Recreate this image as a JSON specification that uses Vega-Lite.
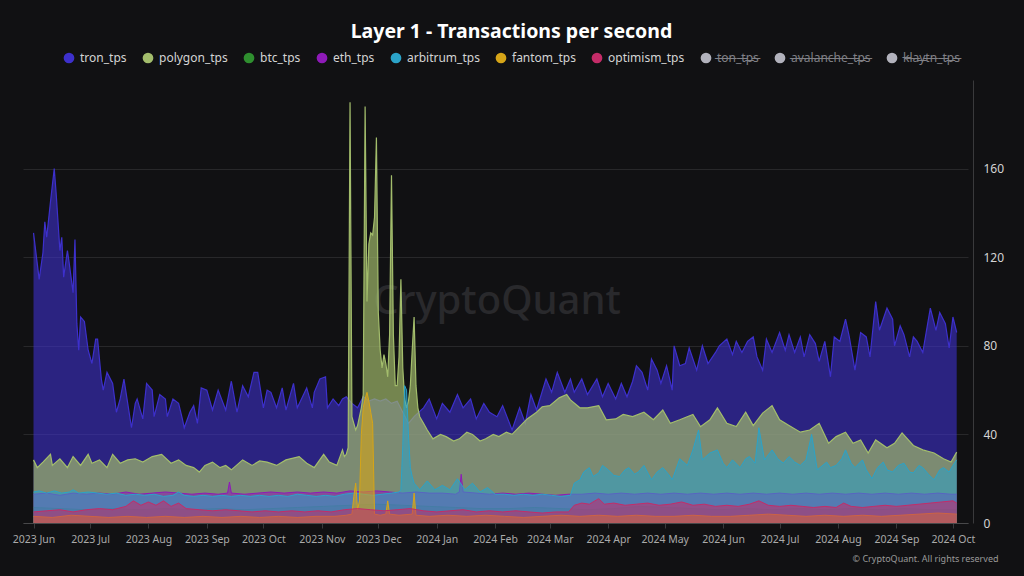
{
"$schema": "https://vega.github.io/schema/vega-lite/v6.json",
"width": 945, "height": 443,
"autosize": {"type": "none"},
"padding": {"left": 23, "top": 80, "right": 56, "bottom": 53},
"background": "#111113",
"config": {"view": {"stroke": null}, "font": "Noto Sans"},
"title": {"text": "Layer 1 - Transactions per second", "color": "#ffffff", "fontSize": 19.5, "fontWeight": "bold", "font": "Noto Sans", "anchor": "middle", "dx": 16, "offset": 10},
"datasets": {
"tron": [
{"d":"2023-06-01","v":131},{"d":"2023-06-04","v":110},{"d":"2023-06-06","v":122},{"d":"2023-06-07","v":136},{"d":"2023-06-08","v":129},{"d":"2023-06-10","v":145},{"d":"2023-06-12","v":160},{"d":"2023-06-13","v":149},{"d":"2023-06-15","v":123},{"d":"2023-06-16","v":129},{"d":"2023-06-17","v":111},{"d":"2023-06-19","v":123},{"d":"2023-06-20","v":117},{"d":"2023-06-22","v":104},{"d":"2023-06-23","v":128},{"d":"2023-06-24","v":90},{"d":"2023-06-25","v":78},{"d":"2023-06-26","v":93},{"d":"2023-06-28","v":91},{"d":"2023-06-30","v":78},
{"d":"2023-07-02","v":72},{"d":"2023-07-04","v":83},{"d":"2023-07-05","v":83},{"d":"2023-07-07","v":65},{"d":"2023-07-08","v":60},{"d":"2023-07-10","v":68},{"d":"2023-07-13","v":63},{"d":"2023-07-15","v":50},{"d":"2023-07-17","v":56},{"d":"2023-07-19","v":65},{"d":"2023-07-21","v":54},{"d":"2023-07-23","v":43},{"d":"2023-07-25","v":54},{"d":"2023-07-26","v":56},{"d":"2023-07-29","v":47},{"d":"2023-07-31","v":63},
{"d":"2023-08-03","v":60},{"d":"2023-08-04","v":48},{"d":"2023-08-07","v":58},{"d":"2023-08-10","v":56},{"d":"2023-08-11","v":48},{"d":"2023-08-14","v":56},{"d":"2023-08-17","v":54},{"d":"2023-08-19","v":47},{"d":"2023-08-20","v":43},{"d":"2023-08-23","v":50},{"d":"2023-08-25","v":53},{"d":"2023-08-27","v":45},{"d":"2023-08-29","v":61},
{"d":"2023-09-01","v":60},{"d":"2023-09-04","v":51},{"d":"2023-09-07","v":60},{"d":"2023-09-11","v":51},{"d":"2023-09-14","v":64},{"d":"2023-09-17","v":50},{"d":"2023-09-20","v":62},{"d":"2023-09-23","v":57},{"d":"2023-09-26","v":68},{"d":"2023-09-28","v":68},
{"d":"2023-10-01","v":52},{"d":"2023-10-03","v":60},{"d":"2023-10-05","v":59},{"d":"2023-10-08","v":52},{"d":"2023-10-11","v":61},{"d":"2023-10-13","v":51},{"d":"2023-10-17","v":63},{"d":"2023-10-19","v":52},{"d":"2023-10-24","v":61},{"d":"2023-10-27","v":52},{"d":"2023-10-28","v":59},{"d":"2023-10-31","v":65},
{"d":"2023-11-03","v":66},{"d":"2023-11-04","v":52},{"d":"2023-11-07","v":56},{"d":"2023-11-10","v":53},{"d":"2023-11-12","v":56},{"d":"2023-11-14","v":57},{"d":"2023-11-17","v":54},{"d":"2023-11-20","v":52},{"d":"2023-11-23","v":57},{"d":"2023-11-26","v":55},{"d":"2023-11-29","v":56},
{"d":"2023-12-02","v":55},{"d":"2023-12-05","v":56},{"d":"2023-12-08","v":54},{"d":"2023-12-11","v":55},{"d":"2023-12-14","v":50},{"d":"2023-12-17","v":45},{"d":"2023-12-20","v":48},{"d":"2023-12-25","v":52},{"d":"2023-12-28","v":56},
{"d":"2024-01-01","v":47},{"d":"2024-01-04","v":54},{"d":"2024-01-08","v":50},{"d":"2024-01-12","v":58},{"d":"2024-01-15","v":52},{"d":"2024-01-19","v":56},{"d":"2024-01-22","v":47},{"d":"2024-01-26","v":54},{"d":"2024-01-29","v":50},
{"d":"2024-02-02","v":48},{"d":"2024-02-05","v":53},{"d":"2024-02-10","v":42},{"d":"2024-02-14","v":52},{"d":"2024-02-17","v":45},{"d":"2024-02-20","v":58},{"d":"2024-02-23","v":51},{"d":"2024-02-28","v":65},
{"d":"2024-03-02","v":59},{"d":"2024-03-05","v":68},{"d":"2024-03-09","v":59},{"d":"2024-03-12","v":65},{"d":"2024-03-14","v":59},{"d":"2024-03-18","v":65},{"d":"2024-03-21","v":58},{"d":"2024-03-26","v":65},{"d":"2024-03-29","v":57},
{"d":"2024-04-01","v":63},{"d":"2024-04-05","v":56},{"d":"2024-04-08","v":63},{"d":"2024-04-11","v":57},{"d":"2024-04-14","v":64},{"d":"2024-04-16","v":71},{"d":"2024-04-19","v":68},{"d":"2024-04-22","v":60},{"d":"2024-04-24","v":74},{"d":"2024-04-27","v":69},{"d":"2024-04-29","v":63},
{"d":"2024-05-02","v":71},{"d":"2024-05-05","v":60},{"d":"2024-05-06","v":80},{"d":"2024-05-09","v":71},{"d":"2024-05-12","v":72},{"d":"2024-05-14","v":79},{"d":"2024-05-18","v":69},{"d":"2024-05-21","v":80},{"d":"2024-05-24","v":72},{"d":"2024-05-28","v":77},{"d":"2024-05-30","v":80},
{"d":"2024-06-03","v":83},{"d":"2024-06-06","v":76},{"d":"2024-06-08","v":82},{"d":"2024-06-11","v":77},{"d":"2024-06-14","v":82},{"d":"2024-06-17","v":84},{"d":"2024-06-19","v":75},{"d":"2024-06-22","v":69},{"d":"2024-06-24","v":83},{"d":"2024-06-27","v":77},
{"d":"2024-07-01","v":86},{"d":"2024-07-04","v":78},{"d":"2024-07-06","v":85},{"d":"2024-07-09","v":77},{"d":"2024-07-12","v":84},{"d":"2024-07-14","v":75},{"d":"2024-07-17","v":85},{"d":"2024-07-20","v":81},{"d":"2024-07-22","v":73},{"d":"2024-07-25","v":82},{"d":"2024-07-28","v":66},{"d":"2024-07-30","v":84},
{"d":"2024-08-02","v":82},{"d":"2024-08-05","v":92},{"d":"2024-08-07","v":84},{"d":"2024-08-10","v":69},{"d":"2024-08-13","v":86},{"d":"2024-08-16","v":84},{"d":"2024-08-18","v":75},{"d":"2024-08-21","v":100},{"d":"2024-08-23","v":87},{"d":"2024-08-27","v":97},{"d":"2024-08-30","v":92},{"d":"2024-08-31","v":80},
{"d":"2024-09-03","v":89},{"d":"2024-09-05","v":85},{"d":"2024-09-08","v":75},{"d":"2024-09-10","v":84},{"d":"2024-09-12","v":82},{"d":"2024-09-15","v":77},{"d":"2024-09-19","v":97},{"d":"2024-09-22","v":87},{"d":"2024-09-24","v":95},{"d":"2024-09-27","v":90},{"d":"2024-09-29","v":79},{"d":"2024-10-01","v":93},{"d":"2024-10-03","v":86}
],
"polygon": [
{"d":"2023-06-01","v":28.5},{"d":"2023-06-03","v":25},{"d":"2023-06-06","v":27.5},{"d":"2023-06-10","v":31},{"d":"2023-06-11","v":26},{"d":"2023-06-15","v":29},{"d":"2023-06-19","v":25},{"d":"2023-06-22","v":30},{"d":"2023-06-26","v":26},{"d":"2023-06-30","v":31},
{"d":"2023-07-02","v":27},{"d":"2023-07-06","v":28.5},{"d":"2023-07-10","v":25},{"d":"2023-07-13","v":31},{"d":"2023-07-17","v":27},{"d":"2023-07-21","v":28.5},{"d":"2023-07-25","v":29},{"d":"2023-07-29","v":27.5},
{"d":"2023-08-03","v":30},{"d":"2023-08-08","v":31},{"d":"2023-08-13","v":27},{"d":"2023-08-17","v":28.5},{"d":"2023-08-21","v":26},{"d":"2023-08-25","v":25},{"d":"2023-08-28","v":23},{"d":"2023-08-31","v":26},
{"d":"2023-09-04","v":27.5},{"d":"2023-09-08","v":25},{"d":"2023-09-11","v":26},{"d":"2023-09-14","v":24},{"d":"2023-09-20","v":28.5},{"d":"2023-09-25","v":26},{"d":"2023-09-29","v":28},
{"d":"2023-10-03","v":27.5},{"d":"2023-10-08","v":26},{"d":"2023-10-13","v":28.5},{"d":"2023-10-20","v":30},{"d":"2023-10-24","v":27},{"d":"2023-10-28","v":25},
{"d":"2023-11-02","v":31},{"d":"2023-11-05","v":27.5},{"d":"2023-11-09","v":26},{"d":"2023-11-12","v":33},{"d":"2023-11-13","v":30},{"d":"2023-11-14","v":31},{"d":"2023-11-15","v":34},{"d":"2023-11-16","v":190},{"d":"2023-11-17","v":48},{"d":"2023-11-18","v":45},{"d":"2023-11-19","v":42},{"d":"2023-11-20","v":44},{"d":"2023-11-21","v":48},{"d":"2023-11-22","v":52},{"d":"2023-11-23","v":58},{"d":"2023-11-24","v":188},{"d":"2023-11-25","v":100},{"d":"2023-11-26","v":126},{"d":"2023-11-27","v":131},{"d":"2023-11-28","v":130},{"d":"2023-11-29","v":138},{"d":"2023-11-30","v":174},
{"d":"2023-12-01","v":95},{"d":"2023-12-02","v":78},{"d":"2023-12-03","v":70},{"d":"2023-12-04","v":76},{"d":"2023-12-05","v":72},{"d":"2023-12-06","v":66},{"d":"2023-12-07","v":85},{"d":"2023-12-08","v":157},{"d":"2023-12-09","v":85},{"d":"2023-12-10","v":62},{"d":"2023-12-11","v":62},{"d":"2023-12-12","v":75},{"d":"2023-12-13","v":110},{"d":"2023-12-14","v":70},{"d":"2023-12-15","v":56},{"d":"2023-12-16","v":52},{"d":"2023-12-17","v":55},{"d":"2023-12-18","v":62},{"d":"2023-12-19","v":78},{"d":"2023-12-20","v":93},{"d":"2023-12-21","v":62},{"d":"2023-12-22","v":52},{"d":"2023-12-23","v":48},{"d":"2023-12-25","v":45},{"d":"2023-12-27","v":42},{"d":"2023-12-30","v":38},
{"d":"2024-01-03","v":40},{"d":"2024-01-06","v":39},{"d":"2024-01-10","v":37},{"d":"2024-01-13","v":38},{"d":"2024-01-17","v":41},{"d":"2024-01-20","v":40},{"d":"2024-01-24","v":37},{"d":"2024-01-27","v":38},{"d":"2024-01-31","v":40},
{"d":"2024-02-03","v":39},{"d":"2024-02-07","v":41},{"d":"2024-02-10","v":40},{"d":"2024-02-14","v":43.5},{"d":"2024-02-18","v":47},{"d":"2024-02-23","v":50},{"d":"2024-02-26","v":52.5},
{"d":"2024-03-01","v":53},{"d":"2024-03-06","v":56.5},{"d":"2024-03-10","v":58},{"d":"2024-03-12","v":55.6},{"d":"2024-03-17","v":52},{"d":"2024-03-21","v":52},{"d":"2024-03-27","v":53},{"d":"2024-03-31","v":46.6},
{"d":"2024-04-05","v":47},{"d":"2024-04-09","v":49},{"d":"2024-04-14","v":48},{"d":"2024-04-20","v":50},{"d":"2024-04-25","v":46.6},{"d":"2024-04-30","v":51},
{"d":"2024-05-04","v":45},{"d":"2024-05-09","v":46.6},{"d":"2024-05-16","v":49},{"d":"2024-05-20","v":43.5},{"d":"2024-05-25","v":46.6},{"d":"2024-05-29","v":52},
{"d":"2024-06-03","v":45},{"d":"2024-06-08","v":43.5},{"d":"2024-06-13","v":50},{"d":"2024-06-17","v":44},{"d":"2024-06-22","v":49.6},{"d":"2024-06-27","v":53},
{"d":"2024-07-01","v":46.6},{"d":"2024-07-06","v":44},{"d":"2024-07-12","v":41},{"d":"2024-07-17","v":42},{"d":"2024-07-22","v":45},{"d":"2024-07-27","v":36},{"d":"2024-07-31","v":39},
{"d":"2024-08-05","v":41},{"d":"2024-08-09","v":36},{"d":"2024-08-13","v":37.5},{"d":"2024-08-17","v":31.6},{"d":"2024-08-21","v":37.5},{"d":"2024-08-27","v":34},{"d":"2024-08-31","v":36},
{"d":"2024-09-04","v":40.7},{"d":"2024-09-10","v":35},{"d":"2024-09-15","v":33},{"d":"2024-09-21","v":31.6},{"d":"2024-09-26","v":29},{"d":"2024-09-30","v":27.5},{"d":"2024-10-03","v":32}
],
"btc": [
{"d":"2023-06-01","v":7},{"d":"2023-06-15","v":6.5},{"d":"2023-06-29","v":6},{"d":"2023-07-13","v":6.5},{"d":"2023-07-27","v":6},{"d":"2023-08-10","v":6.5},{"d":"2023-08-24","v":6},{"d":"2023-09-07","v":6.5},{"d":"2023-09-21","v":6},{"d":"2023-10-05","v":6.5},{"d":"2023-10-19","v":7},{"d":"2023-11-02","v":7.5},{"d":"2023-11-16","v":8},{"d":"2023-11-30","v":8.5},{"d":"2023-12-14","v":8},{"d":"2023-12-28","v":7.5},{"d":"2024-01-11","v":7},{"d":"2024-01-25","v":6.5},{"d":"2024-02-08","v":6.5},{"d":"2024-02-22","v":7},{"d":"2024-03-07","v":6.5},{"d":"2024-03-21","v":6},{"d":"2024-04-04","v":6.5},{"d":"2024-04-18","v":7.5},{"d":"2024-05-02","v":7},{"d":"2024-05-16","v":6.5},{"d":"2024-05-30","v":6},{"d":"2024-06-13","v":6.5},{"d":"2024-06-27","v":6},{"d":"2024-07-11","v":6.5},{"d":"2024-07-25","v":6},{"d":"2024-08-08","v":6.5},{"d":"2024-08-22","v":6},{"d":"2024-09-05","v":6.5},{"d":"2024-09-19","v":6},{"d":"2024-10-03","v":6}
],
"eth": [
{"d":"2023-06-01","v":13},{"d":"2023-06-08","v":13.5},{"d":"2023-06-15","v":12.5},{"d":"2023-06-22","v":13.5},{"d":"2023-06-29","v":13},{"d":"2023-07-06","v":13.5},{"d":"2023-07-13","v":13},{"d":"2023-07-20","v":14},{"d":"2023-07-27","v":13},{"d":"2023-08-03","v":13.5},{"d":"2023-08-10","v":14},{"d":"2023-08-17","v":13.5},{"d":"2023-08-24","v":13},{"d":"2023-08-31","v":13.5},{"d":"2023-09-07","v":13},{"d":"2023-09-12","v":13.5},{"d":"2023-09-13","v":18.5},{"d":"2023-09-14","v":13.5},{"d":"2023-09-21","v":13},{"d":"2023-09-28","v":13.5},{"d":"2023-10-05","v":14},{"d":"2023-10-12","v":13.5},{"d":"2023-10-19","v":14},{"d":"2023-10-26","v":13.5},{"d":"2023-11-02","v":14},{"d":"2023-11-09","v":13.5},{"d":"2023-11-16","v":14.5},{"d":"2023-11-23","v":14},{"d":"2023-11-30","v":14.5},{"d":"2023-12-07","v":14},{"d":"2023-12-14","v":13.5},{"d":"2023-12-21","v":14},{"d":"2023-12-28","v":13.5},
{"d":"2024-01-04","v":13.5},{"d":"2024-01-11","v":13},{"d":"2024-01-13","v":14},{"d":"2024-01-14","v":22},{"d":"2024-01-15","v":14},{"d":"2024-01-22","v":13.5},{"d":"2024-01-29","v":13},{"d":"2024-02-05","v":13.5},{"d":"2024-02-12","v":13},{"d":"2024-02-19","v":13.5},{"d":"2024-02-26","v":13},{"d":"2024-03-04","v":12.5},{"d":"2024-03-11","v":13},{"d":"2024-03-18","v":13},{"d":"2024-03-25","v":13.5},{"d":"2024-04-01","v":13},{"d":"2024-04-08","v":13.5},{"d":"2024-04-15","v":13},{"d":"2024-04-22","v":13.5},{"d":"2024-04-29","v":13},{"d":"2024-05-06","v":13.5},{"d":"2024-05-13","v":13},{"d":"2024-05-20","v":13.5},{"d":"2024-05-27","v":13},{"d":"2024-06-03","v":13.5},{"d":"2024-06-10","v":13},{"d":"2024-06-17","v":13.5},{"d":"2024-06-24","v":13},{"d":"2024-07-01","v":13.5},{"d":"2024-07-08","v":13},{"d":"2024-07-15","v":13.5},{"d":"2024-07-22","v":13},{"d":"2024-07-29","v":13.5},{"d":"2024-08-05","v":13},{"d":"2024-08-12","v":13.5},{"d":"2024-08-19","v":13},{"d":"2024-08-26","v":13.5},{"d":"2024-09-02","v":13},{"d":"2024-09-09","v":13.5},{"d":"2024-09-16","v":13},{"d":"2024-09-23","v":13.5},{"d":"2024-09-30","v":13},{"d":"2024-10-03","v":13}
],
"arb": [
{"d":"2023-06-01","v":14},{"d":"2023-06-04","v":14.5},{"d":"2023-06-08","v":13.5},{"d":"2023-06-12","v":14.5},{"d":"2023-06-16","v":13.5},{"d":"2023-06-20","v":14},{"d":"2023-06-22","v":15},{"d":"2023-06-25","v":13.5},{"d":"2023-06-30","v":14},{"d":"2023-07-05","v":13.5},{"d":"2023-07-10","v":13},{"d":"2023-07-15","v":13.5},{"d":"2023-07-20","v":12.5},{"d":"2023-07-25","v":13},{"d":"2023-07-30","v":12.5},{"d":"2023-08-04","v":13},{"d":"2023-08-09","v":12},{"d":"2023-08-14","v":12.5},{"d":"2023-08-17","v":14},{"d":"2023-08-20","v":12.5},{"d":"2023-08-25","v":12},{"d":"2023-08-30","v":12.5},{"d":"2023-09-04","v":12},{"d":"2023-09-09","v":12.5},{"d":"2023-09-14","v":12},{"d":"2023-09-19","v":12.5},{"d":"2023-09-24","v":12},{"d":"2023-09-29","v":12.5},{"d":"2023-10-04","v":12},{"d":"2023-10-09","v":12.5},{"d":"2023-10-14","v":12},{"d":"2023-10-19","v":13},{"d":"2023-10-24","v":12.5},{"d":"2023-10-29","v":12},{"d":"2023-11-03","v":12.5},{"d":"2023-11-08","v":12},{"d":"2023-11-13","v":13},{"d":"2023-11-18","v":13.5},{"d":"2023-11-23","v":13},{"d":"2023-11-28","v":12.5},{"d":"2023-12-03","v":13},{"d":"2023-12-08","v":13.5},{"d":"2023-12-12","v":14},{"d":"2023-12-13","v":15},{"d":"2023-12-14","v":35},{"d":"2023-12-15","v":62},{"d":"2023-12-16","v":60},{"d":"2023-12-17","v":40},{"d":"2023-12-18","v":25},{"d":"2023-12-19","v":21},{"d":"2023-12-20","v":18},{"d":"2023-12-23","v":15},{"d":"2023-12-27","v":19},{"d":"2023-12-31","v":15},
{"d":"2024-01-04","v":17},{"d":"2024-01-08","v":15},{"d":"2024-01-12","v":20},{"d":"2024-01-16","v":15},{"d":"2024-01-20","v":18},{"d":"2024-01-24","v":14},{"d":"2024-01-28","v":16},{"d":"2024-02-01","v":13},{"d":"2024-02-06","v":13},{"d":"2024-02-11","v":12.5},{"d":"2024-02-16","v":13},{"d":"2024-02-21","v":12.5},{"d":"2024-02-26","v":13},{"d":"2024-03-02","v":12.5},{"d":"2024-03-07","v":12},{"d":"2024-03-12","v":12.5},{"d":"2024-03-14","v":18},{"d":"2024-03-17","v":19.5},{"d":"2024-03-19","v":23},{"d":"2024-03-22","v":25},{"d":"2024-03-24","v":21},{"d":"2024-03-27","v":22.6},{"d":"2024-03-29","v":26},
{"d":"2024-04-01","v":24},{"d":"2024-04-04","v":21.5},{"d":"2024-04-07","v":21},{"d":"2024-04-10","v":24},{"d":"2024-04-12","v":25},{"d":"2024-04-15","v":22},{"d":"2024-04-17","v":23},{"d":"2024-04-20","v":26},{"d":"2024-04-24","v":19.5},{"d":"2024-04-27","v":23},{"d":"2024-04-30","v":25},{"d":"2024-05-03","v":22},{"d":"2024-05-05","v":19.5},{"d":"2024-05-09","v":29},{"d":"2024-05-13","v":26},{"d":"2024-05-16","v":33},{"d":"2024-05-19","v":42},{"d":"2024-05-21","v":28.5},{"d":"2024-05-25","v":31.6},{"d":"2024-05-29","v":33},
{"d":"2024-06-01","v":27},{"d":"2024-06-03","v":25},{"d":"2024-06-06","v":28.5},{"d":"2024-06-10","v":25},{"d":"2024-06-13","v":29},{"d":"2024-06-15","v":30},{"d":"2024-06-18","v":27},{"d":"2024-06-20","v":43},{"d":"2024-06-23","v":28.5},{"d":"2024-06-27","v":33},{"d":"2024-06-30","v":29},{"d":"2024-07-03","v":27},{"d":"2024-07-06","v":30},{"d":"2024-07-09","v":27.5},{"d":"2024-07-12","v":26},{"d":"2024-07-15","v":28.5},{"d":"2024-07-18","v":40},{"d":"2024-07-21","v":24},{"d":"2024-07-26","v":27.5},{"d":"2024-07-28","v":25},{"d":"2024-07-31","v":26},
{"d":"2024-08-03","v":29},{"d":"2024-08-05","v":33},{"d":"2024-08-08","v":27},{"d":"2024-08-10","v":25},{"d":"2024-08-14","v":28.5},{"d":"2024-08-16","v":24},{"d":"2024-08-19","v":20},{"d":"2024-08-22","v":25},{"d":"2024-08-25","v":27.5},{"d":"2024-08-27","v":24},{"d":"2024-08-30","v":23},{"d":"2024-09-02","v":26},{"d":"2024-09-05","v":27},{"d":"2024-09-08","v":23},{"d":"2024-09-10","v":22.6},{"d":"2024-09-13","v":26},{"d":"2024-09-15","v":25},{"d":"2024-09-18","v":22},{"d":"2024-09-21","v":19.5},{"d":"2024-09-24","v":24},{"d":"2024-09-26","v":25},{"d":"2024-09-29","v":23},{"d":"2024-10-01","v":26},{"d":"2024-10-03","v":28.5}
],
"ftm": [
{"d":"2023-06-01","v":3},{"d":"2023-06-11","v":2.5},{"d":"2023-06-21","v":3.5},{"d":"2023-07-01","v":3},{"d":"2023-07-11","v":2.5},{"d":"2023-07-21","v":3},{"d":"2023-07-31","v":2.5},{"d":"2023-08-10","v":3},{"d":"2023-08-20","v":2.5},{"d":"2023-08-30","v":3},{"d":"2023-09-09","v":2.5},{"d":"2023-09-19","v":3},{"d":"2023-09-29","v":2.5},{"d":"2023-10-09","v":3},{"d":"2023-10-19","v":2.5},{"d":"2023-10-29","v":3},{"d":"2023-11-08","v":3},{"d":"2023-11-14","v":3.5},{"d":"2023-11-17","v":4},{"d":"2023-11-18","v":12},{"d":"2023-11-19","v":18},{"d":"2023-11-20","v":6},{"d":"2023-11-21","v":10},{"d":"2023-11-22","v":40},{"d":"2023-11-23","v":52},{"d":"2023-11-24","v":56},{"d":"2023-11-25","v":59},{"d":"2023-11-26","v":55},{"d":"2023-11-27","v":50},{"d":"2023-11-28","v":45},{"d":"2023-11-29","v":4},{"d":"2023-12-02","v":3.5},{"d":"2023-12-05","v":4},{"d":"2023-12-06","v":10},{"d":"2023-12-07","v":4},{"d":"2023-12-12","v":3.5},{"d":"2023-12-19","v":4},{"d":"2023-12-20","v":13.5},{"d":"2023-12-21","v":3.5},{"d":"2023-12-28","v":3},
{"d":"2024-01-07","v":3.5},{"d":"2024-01-17","v":3},{"d":"2024-01-27","v":3.5},{"d":"2024-02-06","v":3},{"d":"2024-02-16","v":2.5},{"d":"2024-02-26","v":3},{"d":"2024-03-07","v":3.5},{"d":"2024-03-17","v":3},{"d":"2024-03-27","v":3.5},{"d":"2024-04-06","v":3},{"d":"2024-04-16","v":3.5},{"d":"2024-04-26","v":3},{"d":"2024-05-06","v":3},{"d":"2024-05-16","v":3.5},{"d":"2024-05-26","v":3},{"d":"2024-06-05","v":3},{"d":"2024-06-15","v":3.5},{"d":"2024-06-25","v":4},{"d":"2024-07-05","v":3.5},{"d":"2024-07-15","v":3},{"d":"2024-07-25","v":3.5},{"d":"2024-08-04","v":3},{"d":"2024-08-14","v":3.5},{"d":"2024-08-24","v":3},{"d":"2024-09-03","v":3.5},{"d":"2024-09-13","v":4},{"d":"2024-09-23","v":4.5},{"d":"2024-10-03","v":4}
],
"op": [
{"d":"2023-06-01","v":5},{"d":"2023-06-08","v":5.5},{"d":"2023-06-15","v":6},{"d":"2023-06-22","v":5},{"d":"2023-06-29","v":6},{"d":"2023-07-06","v":6.5},{"d":"2023-07-13","v":6},{"d":"2023-07-20","v":7.5},{"d":"2023-07-24","v":10},{"d":"2023-07-28","v":8},{"d":"2023-08-01","v":9.5},{"d":"2023-08-05","v":8},{"d":"2023-08-09","v":10},{"d":"2023-08-13","v":7.5},{"d":"2023-08-17","v":9},{"d":"2023-08-21","v":6.5},{"d":"2023-08-28","v":6},{"d":"2023-09-04","v":5.5},{"d":"2023-09-11","v":6},{"d":"2023-09-18","v":5.5},{"d":"2023-09-25","v":5},{"d":"2023-10-02","v":5.5},{"d":"2023-10-09","v":5},{"d":"2023-10-16","v":5.5},{"d":"2023-10-23","v":5},{"d":"2023-10-30","v":5.5},{"d":"2023-11-06","v":5},{"d":"2023-11-13","v":6},{"d":"2023-11-20","v":6.5},{"d":"2023-11-27","v":6},{"d":"2023-12-04","v":5.5},{"d":"2023-12-11","v":6},{"d":"2023-12-18","v":6.5},{"d":"2023-12-25","v":5.5},
{"d":"2024-01-01","v":5},{"d":"2024-01-08","v":5.5},{"d":"2024-01-15","v":6},{"d":"2024-01-22","v":5},{"d":"2024-01-29","v":5.5},{"d":"2024-02-05","v":5},{"d":"2024-02-12","v":5.5},{"d":"2024-02-19","v":5},{"d":"2024-02-26","v":4.5},{"d":"2024-03-04","v":5},{"d":"2024-03-11","v":5},{"d":"2024-03-14","v":8},{"d":"2024-03-18","v":9},{"d":"2024-03-22","v":8.5},{"d":"2024-03-27","v":11},{"d":"2024-03-30","v":8.5},{"d":"2024-04-04","v":9},{"d":"2024-04-10","v":8},{"d":"2024-04-16","v":8.5},{"d":"2024-04-22","v":9},{"d":"2024-04-28","v":8},{"d":"2024-05-04","v":8.5},{"d":"2024-05-10","v":9.5},{"d":"2024-05-16","v":8},{"d":"2024-05-22","v":8.5},{"d":"2024-05-28","v":7.5},{"d":"2024-06-03","v":8},{"d":"2024-06-09","v":7.5},{"d":"2024-06-15","v":8.5},{"d":"2024-06-20","v":10},{"d":"2024-06-25","v":8},{"d":"2024-07-01","v":7.5},{"d":"2024-07-07","v":8},{"d":"2024-07-13","v":7.5},{"d":"2024-07-19","v":7},{"d":"2024-07-25","v":7.5},{"d":"2024-07-31","v":7},{"d":"2024-08-04","v":9},{"d":"2024-08-08","v":7.5},{"d":"2024-08-14","v":7},{"d":"2024-08-20","v":7.5},{"d":"2024-08-26","v":8},{"d":"2024-09-01","v":7.5},{"d":"2024-09-07","v":8},{"d":"2024-09-13","v":8.5},{"d":"2024-09-19","v":9},{"d":"2024-09-25","v":9.5},{"d":"2024-10-01","v":10},{"d":"2024-10-03","v":9}
],
"mark": [{"t":"CryptoQuant","d":"2024-02-02","v":100}]
},
"encoding": {
"x": {"field": "d", "type": "temporal",
 "scale": {"domain": [{"year": 2023, "month": 5, "date": 26, "hours": 10}, {"year": 2024, "month": 10, "date": 9}]},
 "axis": {"format": "%Y %b", "tickCount": {"interval": "month", "step": 1}, "labelColor": "#aaaaaa", "labelFontSize": 10.5, "labelFont": "Noto Sans", "tickColor": "#3a3a3c", "tickSize": 5, "domainColor": "#48484a", "grid": false, "labelPadding": 6, "labelFlush": false, "labelOverlap": false,
  "title": "© CryptoQuant. All rights reserved", "titleFontSize": 9, "titleFontWeight": "normal", "titleColor": "#9a9a9a", "titleFont": "Noto Sans", "titleAnchor": null, "titleAlign": "right", "titleX": 975, "titleY": 35, "titleBaseline": "middle"}},
"y": {"field": "v", "type": "quantitative",
 "scale": {"domain": [0, 200], "nice": false},
 "axis": {"orient": "right", "offset": 5, "values": [0, 40, 80, 120, 160], "grid": true, "gridColor": "#28282a", "ticks": false, "labelColor": "#d4d4d4", "labelFontSize": 12, "labelFont": "Noto Sans", "labelPadding": 10, "domainColor": "#3a3a3c", "title": null}}
},
"layer": [
{"data": {"name": "mark"},
 "mark": {"type": "text", "fontSize": 40, "fontWeight": 500, "color": "#29292c", "font": "Noto Sans"},
 "encoding": {"text": {"field": "t"}}},
{"data": {"name": "tron"}, "mark": {"type": "area", "line": {"strokeWidth": 1.2}, "fillOpacity": 0.6},
 "encoding": {"color": {"datum": "tron_tps", "type": "nominal",
  "scale": {"domain": ["tron_tps","polygon_tps","btc_tps","eth_tps","arbitrum_tps","fantom_tps","optimism_tps","ton_tps","avalanche_tps","klaytn_tps"],
   "range": ["#3d30cc","#a3bd6c","#2f8f2f","#8e1ab8","#2ba3c8","#d6a518","#c42c68","#b2b2bc","#b2b2bc","#b2b2bc"]},
  "legend": {"title": null, "orient": "none", "legendX": 40, "legendY": -28, "direction": "horizontal", "symbolType": "circle", "symbolSize": 115, "symbolOpacity": 1, "symbolStrokeWidth": 0, "labelFontSize": 12, "labelFont": "Noto Sans", "labelColor": "#d4d4d4", "labelOffset": 5, "columnPadding": 15, "gridAlign": "none", "labelLimit": 200,
   "labelExpr": "datum.label == 'ton_tps' ? 't\u0336o\u0336n\u0336_\u0336t\u0336p\u0336s\u0336' : datum.label == 'avalanche_tps' ? 'a\u0336v\u0336a\u0336l\u0336a\u0336n\u0336c\u0336h\u0336e\u0336_\u0336t\u0336p\u0336s\u0336' : datum.label == 'klaytn_tps' ? 'k\u0336l\u0336a\u0336y\u0336t\u0336n\u0336_\u0336t\u0336p\u0336s\u0336' : datum.label",
   "encode": {"labels": {"update": {"fill": {"signal": "indexof(['ton_tps','avalanche_tps','klaytn_tps'], datum.value) >= 0 ? '#808086' : '#d4d4d4'"}}}, "symbols": {"update": {"fillOpacity": {"value": 1}, "opacity": {"value": 1}}}}}}}},
{"data": {"name": "polygon"}, "mark": {"type": "area", "line": {"strokeWidth": 1.2}, "fillOpacity": 0.68}, "encoding": {"color": {"datum": "polygon_tps", "type": "nominal"}}},
{"data": {"name": "btc"}, "mark": {"type": "area", "line": {"strokeWidth": 1}, "fillOpacity": 0.55}, "encoding": {"color": {"datum": "btc_tps", "type": "nominal"}}},
{"data": {"name": "eth"}, "mark": {"type": "area", "line": {"strokeWidth": 1}, "fillOpacity": 0.55}, "encoding": {"color": {"datum": "eth_tps", "type": "nominal"}}},
{"data": {"name": "arb"}, "mark": {"type": "area", "line": {"strokeWidth": 1}, "fillOpacity": 0.55}, "encoding": {"color": {"datum": "arbitrum_tps", "type": "nominal"}}},
{"data": {"name": "ftm"}, "mark": {"type": "area", "line": {"strokeWidth": 1}, "fillOpacity": 0.6}, "encoding": {"color": {"datum": "fantom_tps", "type": "nominal"}}},
{"data": {"name": "op"}, "mark": {"type": "area", "line": {"strokeWidth": 1}, "fillOpacity": 0.55}, "encoding": {"color": {"datum": "optimism_tps", "type": "nominal"}}}
]
}
